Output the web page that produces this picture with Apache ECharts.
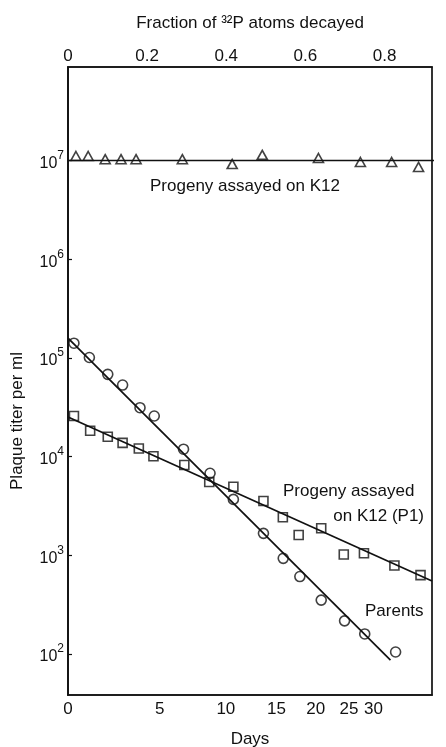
<!DOCTYPE html>
<html>
<head>
<meta charset="utf-8">
<script src="https://cdn.jsdelivr.net/npm/echarts@6/dist/echarts.min.js"></script>
<style>html,body{margin:0;padding:0;background:#fff;}#c{width:446px;height:747px;}</style>
</head>
<body>
<div id="c"></div>
<script>
// x values: fraction of 32P atoms decayed
const topTickValues = [0, 0.2, 0.4, 0.6, 0.8];
const dayLabels = ['0', '5', '10', '15', '20', '25', '30'];
const dayTickPositions = [0, 0.232, 0.399, 0.527, 0.626, 0.710, 0.772];
const decadeTicks = [1e2, 1e3, 1e4, 1e5, 1e6, 1e7];

// Progeny assayed on K12 (triangles)
const k12X = [0.020, 0.051, 0.094, 0.134, 0.172, 0.289, 0.415, 0.491, 0.633, 0.739, 0.818, 0.886];
const k12Y = [1.11e7, 1.11e7, 1.03e7, 1.03e7, 1.03e7, 1.03e7, 9.2e6, 1.14e7, 1.06e7, 9.65e6, 9.65e6, 8.6e6];
const k12FitX = [0, 0.957];
const k12FitY = [1.0e7, 1.0e7];

// Parents (circles)
const parentX = [0.015, 0.054, 0.1005, 0.138, 0.182, 0.218, 0.292, 0.359, 0.418, 0.494, 0.544, 0.586, 0.640, 0.699, 0.750, 0.828];
const parentY = [1.41e5, 1.01e5, 6.82e4, 5.31e4, 3.13e4, 2.58e4, 1.19e4, 6.78e3, 3.69e3, 1.67e3, 933, 610, 352, 217, 160, 105];
const parentFitX = [0, 0.815];
const parentFitY = [1.59e5, 86.9];

// Progeny assayed on K12(P1) (squares)
const p1X = [0.015, 0.056, 0.1005, 0.138, 0.179, 0.216, 0.294, 0.357, 0.418, 0.494, 0.543, 0.583, 0.640, 0.697, 0.748, 0.825, 0.891];
const p1Y = [2.58e4, 1.83e4, 1.59e4, 1.38e4, 1.21e4, 1.01e4, 8.22e3, 5.53e3, 4.95e3, 3.55e3, 2.43e3, 1.61e3, 1.88e3, 1.02e3, 1.05e3, 789, 631];
const p1FitX = [0, 0.92];
const p1FitY = [2.52e4, 550];

const FONT = 'Liberation Sans';
const INK = '#111';

function pairs(xs, ys) { return xs.map((x, i) => [x, ys[i]]); }

const chart = echarts.init(document.getElementById('c'), null, {renderer: 'canvas'});

const hollow = {color: 'rgba(255,255,255,0)', borderColor: INK, borderWidth: 1.6};
const fitLine = {color: INK, width: 1.7};

chart.setOption({
  animation: false,
  backgroundColor: '#fff',
  grid: {left: 68, right: 14, top: 67, bottom: 52, show: true, borderColor: INK, borderWidth: 1.7, backgroundColor: 'transparent', containLabel: false, outerBoundsMode: 'none'},
  xAxis: [
    {
      type: 'value', position: 'top', min: 0, max: 0.92,
      name: 'Fraction of ³²P atoms decayed', nameLocation: 'middle', nameGap: 35,
      nameTextStyle: {fontFamily: FONT, fontSize: 17, color: INK},
      axisLine: {show: true, lineStyle: {color: INK, width: 1.7}},
      axisTick: {show: false},
      splitLine: {show: false},
      axisLabel: {
        customValues: topTickValues, margin: 2,
        fontFamily: FONT, fontSize: 17, color: INK,
        formatter: v => (v === 0 ? '0' : v.toFixed(1))
      }
    },
    {
      type: 'value', position: 'bottom', min: 0, max: 0.92,
      name: 'Days', nameLocation: 'middle', nameGap: 36,
      nameTextStyle: {fontFamily: FONT, fontSize: 17, color: INK},
      axisLine: {show: true, lineStyle: {color: INK, width: 1.7}},
      axisTick: {show: false},
      splitLine: {show: false},
      axisLabel: {
        customValues: dayTickPositions, margin: 6,
        fontFamily: FONT, fontSize: 17, color: INK,
        formatter: v => {
          let best = 0;
          dayTickPositions.forEach((p, i) => { if (Math.abs(p - v) < Math.abs(dayTickPositions[best] - v)) best = i; });
          return dayLabels[best];
        }
      }
    }
  ],
  yAxis: {
    type: 'log', min: 38.5, max: 8.85e7, logBase: 10,
    name: 'Plaque titer per ml', nameLocation: 'middle', nameGap: 42,
    nameTextStyle: {fontFamily: FONT, fontSize: 17, color: INK, padding: [0, 80, 0, 0]},
    axisLine: {show: true, lineStyle: {color: INK, width: 1.7}},
    axisTick: {show: true, inside: true, length: 4, customValues: decadeTicks, lineStyle: {color: INK, width: 1.2}},
    splitLine: {show: false},
    minorTick: {show: false},
    axisLabel: {
      customValues: decadeTicks, margin: 4,
      formatter: v => '{b|10}{e|' + Math.round(Math.log10(v)) + '}',
      rich: {
        b: {fontFamily: FONT, fontSize: 16, color: INK, lineHeight: 22, verticalAlign: 'bottom'},
        e: {fontFamily: FONT, fontSize: 12, color: INK, lineHeight: 12, padding: [0, 0, 10, 0]}
      }
    }
  },
  series: [
    {type: 'line', xAxisIndex: 0, data: pairs(k12FitX, k12FitY), showSymbol: false, symbol: 'none', clip: false, lineStyle: fitLine, z: 2},
    {type: 'scatter', xAxisIndex: 0, data: pairs(k12X, k12Y), symbol: 'triangle', symbolSize: [10, 9], itemStyle: hollow, z: 3},
    {type: 'line', xAxisIndex: 0, data: pairs(parentFitX, parentFitY), showSymbol: false, symbol: 'none', lineStyle: fitLine, z: 2},
    {type: 'scatter', xAxisIndex: 0, data: pairs(parentX, parentY), symbol: 'circle', symbolSize: 10, itemStyle: hollow, z: 3},
    {type: 'line', xAxisIndex: 0, data: pairs(p1FitX, p1FitY), showSymbol: false, symbol: 'none', lineStyle: fitLine, z: 2},
    {type: 'scatter', xAxisIndex: 0, data: pairs(p1X, p1Y), symbol: 'rect', symbolSize: 9, itemStyle: hollow, z: 3}
  ],
  graphic: [
    {type: 'text', x: 245, y: 186, style: {text: 'Progeny assayed on K12', font: '17px "Liberation Sans"', fill: INK, textAlign: 'center', textVerticalAlign: 'middle'}},
    {type: 'text', x: 283, y: 491, style: {text: 'Progeny assayed', font: '17px "Liberation Sans"', fill: INK, textAlign: 'left', textVerticalAlign: 'middle'}},
    {type: 'text', x: 424, y: 516, style: {text: 'on K12 (P1)', font: '17px "Liberation Sans"', fill: INK, textAlign: 'right', textVerticalAlign: 'middle'}},
    {type: 'text', x: 365, y: 611, style: {text: 'Parents', font: '17px "Liberation Sans"', fill: INK, textAlign: 'left', textVerticalAlign: 'middle'}}
  ]
});
</script>
</body>
</html>
